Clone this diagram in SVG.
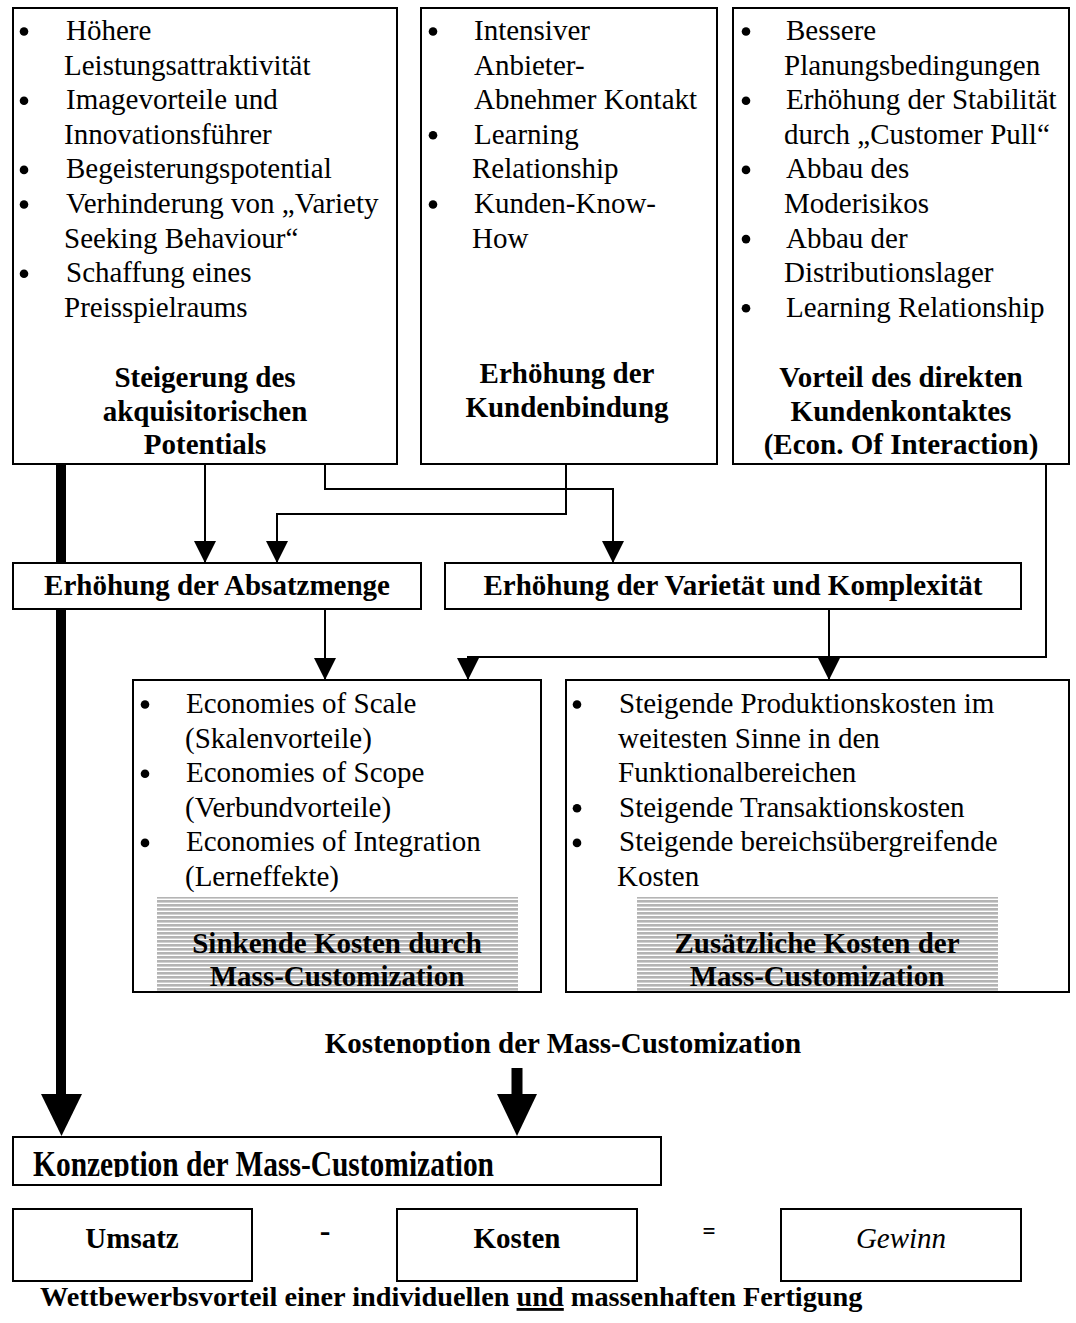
<svg xmlns="http://www.w3.org/2000/svg" width="1076" height="1323" viewBox="0 0 1076 1323">
  <style>
    .box { fill: #fff; stroke: #000; stroke-width: 2; }
    .t { font-family: "Liberation Serif", "Times New Roman", serif; font-size: 29px; fill: #000; }
    .b { font-weight: bold; }
    .i { font-style: italic; }
    .c { text-anchor: middle; }
    .ln { fill: none; stroke: #000; stroke-width: 2; }
  </style>
  <defs>
    <marker id="arr" markerUnits="userSpaceOnUse" markerWidth="22" markerHeight="22" viewBox="0 0 20 20" refX="20" refY="10" orient="auto">
      <path d="M0,0 L20,10 L0,20 Z" fill="#000"/>
    </marker>
    <!-- list bullet, placed with its centre at the origin -->
    <circle id="dot" r="4.3" fill="#000"/>
    <pattern id="hatch" width="8" height="4" patternUnits="userSpaceOnUse">
      <rect width="8" height="4" fill="#fff"/>
      <rect width="8" height="2.6" fill="#b4b4b4"/>
    </pattern>
    <clipPath id="clipKo"><rect x="0" y="1020" width="1076" height="35"/></clipPath>
    <clipPath id="clipKz"><rect x="13" y="1137" width="648" height="40"/></clipPath>
  </defs>
  <rect width="1076" height="1323" fill="#fff"/>

  <!-- connectors (drawn first so the boxes sit on top of them) -->
  <g id="connectors">
    <path class="ln" d="M205,464 V563" marker-end="url(#arr)"/>
    <path class="ln" d="M325,464 V489 H613 V563" marker-end="url(#arr)"/>
    <path class="ln" d="M566,464 V514 H277 V563" marker-end="url(#arr)"/>
    <path class="ln" d="M325,609 V680" marker-end="url(#arr)"/>
    <path class="ln" d="M829,609 V680" marker-end="url(#arr)"/>
    <path class="ln" d="M1046,464 V657 H468 V680" marker-end="url(#arr)"/>
    <!-- heavy arrows into the concept box -->
    <rect x="56" y="464" width="10" height="632" fill="#000"/>
    <polygon points="41,1094 82,1094 61.5,1136" fill="#000"/>
    <rect x="511.5" y="1068" width="11" height="28" fill="#000"/>
    <polygon points="497,1094 537,1094 517,1136" fill="#000"/>
  </g>

  <!-- top row: sources of the acquisition potential -->
  <g id="akquisition">
    <rect class="box" x="13" y="8" width="384" height="456"/>
    <use href="#dot" x="24" y="31.5"/><text class="t" x="66" y="40">Höhere</text>
    <text class="t" x="64" y="74.6">Leistungsattraktivität</text>
    <use href="#dot" x="24" y="100.7"/><text class="t" x="66" y="109.2">Imagevorteile und</text>
    <text class="t" x="64" y="143.8">Innovationsführer</text>
    <use href="#dot" x="24" y="169.9"/><text class="t" x="66" y="178.4">Begeisterungspotential</text>
    <use href="#dot" x="24" y="204.5"/><text class="t" x="66" y="213">Verhinderung von „Variety</text>
    <text class="t" x="64" y="247.6">Seeking Behaviour“</text>
    <use href="#dot" x="24" y="273.7"/><text class="t" x="66" y="282.2">Schaffung eines</text>
    <text class="t" x="64" y="316.8">Preisspielraums</text>
    <text class="t b c" x="205" y="387">Steigerung des</text>
    <text class="t b c" x="205" y="420.5">akquisitorischen</text>
    <text class="t b c" x="205" y="454">Potentials</text>
  </g>

  <g id="kundenbindung">
    <rect class="box" x="421" y="8" width="296" height="456"/>
    <use href="#dot" x="433" y="31.5"/><text class="t" x="474" y="40">Intensiver</text>
    <text class="t" x="474" y="74.6">Anbieter-</text>
    <text class="t" x="474" y="109.2">Abnehmer Kontakt</text>
    <use href="#dot" x="433" y="135.3"/><text class="t" x="474" y="143.8">Learning</text>
    <text class="t" x="472" y="178.4">Relationship</text>
    <use href="#dot" x="433" y="204.5"/><text class="t" x="474" y="213">Kunden-Know-</text>
    <text class="t" x="472" y="247.6">How</text>
    <text class="t b c" x="567" y="383">Erhöhung der</text>
    <text class="t b c" x="567" y="417">Kundenbindung</text>
  </g>

  <g id="kundenkontakt">
    <rect class="box" x="733" y="8" width="336" height="456"/>
    <use href="#dot" x="746" y="31.5"/><text class="t" x="786" y="40">Bessere</text>
    <text class="t" x="784" y="74.6">Planungsbedingungen</text>
    <use href="#dot" x="746" y="100.7"/><text class="t" x="786" y="109.2">Erhöhung der Stabilität</text>
    <text class="t" x="784" y="143.8">durch „Customer Pull“</text>
    <use href="#dot" x="746" y="169.9"/><text class="t" x="786" y="178.4">Abbau des</text>
    <text class="t" x="784" y="213">Moderisikos</text>
    <use href="#dot" x="746" y="239.1"/><text class="t" x="786" y="247.6">Abbau der</text>
    <text class="t" x="784" y="282.2">Distributionslager</text>
    <use href="#dot" x="746" y="308.3"/><text class="t" x="786" y="316.8">Learning Relationship</text>
    <text class="t b c" x="901" y="387">Vorteil des direkten</text>
    <text class="t b c" x="901" y="420.5">Kundenkontaktes</text>
    <text class="t b c" x="901" y="454">(Econ. Of Interaction)</text>
  </g>

  <!-- middle row -->
  <g id="absatzmenge">
    <rect class="box" x="13" y="563" width="408" height="46"/>
    <text class="t b c" x="217" y="595">Erhöhung der Absatzmenge</text>
  </g>
  <g id="varietaet">
    <rect class="box" x="445" y="563" width="576" height="46"/>
    <text class="t b c" x="733" y="595">Erhöhung der Varietät und Komplexität</text>
  </g>

  <!-- cost effects -->
  <g id="sinkende-kosten">
    <rect class="box" x="133" y="680" width="408" height="312"/>
    <use href="#dot" x="145" y="704.5"/><text class="t" x="186" y="713">Economies of Scale</text>
    <text class="t" x="185" y="747.6">(Skalenvorteile)</text>
    <use href="#dot" x="145" y="773.7"/><text class="t" x="186" y="782.2">Economies of Scope</text>
    <text class="t" x="185" y="816.8">(Verbundvorteile)</text>
    <use href="#dot" x="145" y="842.9"/><text class="t" x="186" y="851.4">Economies of Integration</text>
    <text class="t" x="185" y="886">(Lerneffekte)</text>
    <rect x="157" y="897" width="361" height="94" fill="url(#hatch)"/>
    <text class="t b c" x="337" y="953">Sinkende Kosten durch</text>
    <text class="t b c" x="337" y="986">Mass-Customization</text>
  </g>

  <g id="zusaetzliche-kosten">
    <rect class="box" x="566" y="680" width="503" height="312"/>
    <use href="#dot" x="577" y="704.5"/><text class="t" x="619" y="713">Steigende Produktionskosten im</text>
    <text class="t" x="618" y="747.6">weitesten Sinne in den</text>
    <text class="t" x="618" y="782.2">Funktionalbereichen</text>
    <use href="#dot" x="577" y="808.3"/><text class="t" x="619" y="816.8">Steigende Transaktionskosten</text>
    <use href="#dot" x="577" y="842.9"/><text class="t" x="619" y="851.4">Steigende bereichsübergreifende</text>
    <text class="t" x="617" y="886">Kosten</text>
    <rect x="637" y="897" width="361" height="94" fill="url(#hatch)"/>
    <text class="t b c" x="817" y="953">Zusätzliche Kosten der</text>
    <text class="t b c" x="817" y="986">Mass-Customization</text>
  </g>

  <g id="kostenoption">
    <text class="t b c" x="563" y="1053" clip-path="url(#clipKo)">Kostenoption der Mass-Customization</text>
  </g>

  <g id="konzeption">
    <rect class="box" x="13" y="1137" width="648" height="48"/>
    <g clip-path="url(#clipKz)">
      <text class="t b" transform="translate(33,1176) scale(1,1.25)" textLength="461" lengthAdjust="spacingAndGlyphs">Konzeption der Mass-Customization</text>
    </g>
  </g>

  <!-- profit equation -->
  <g id="umsatz">
    <rect class="box" x="13" y="1209" width="239" height="72"/>
    <text class="t b c" x="132" y="1248">Umsatz</text>
  </g>
  <g id="minus">
    <text class="t b c" x="325" y="1241" style="font-size:32px">-</text>
  </g>
  <g id="kosten">
    <rect class="box" x="397" y="1209" width="240" height="72"/>
    <text class="t b c" x="517" y="1248">Kosten</text>
  </g>
  <g id="gleich">
    <text class="t b c" x="709" y="1239" style="font-size:23px">=</text>
  </g>
  <g id="gewinn">
    <rect class="box" x="781" y="1209" width="240" height="72"/>
    <text class="t i c" x="901" y="1248">Gewinn</text>
  </g>

  <g id="wettbewerbsvorteil">
    <text class="t b" x="40" y="1306" style="font-size:28.3px">Wettbewerbsvorteil einer individuellen <tspan text-decoration="underline">und</tspan> massenhaften Fertigung</text>
  </g>
</svg>
